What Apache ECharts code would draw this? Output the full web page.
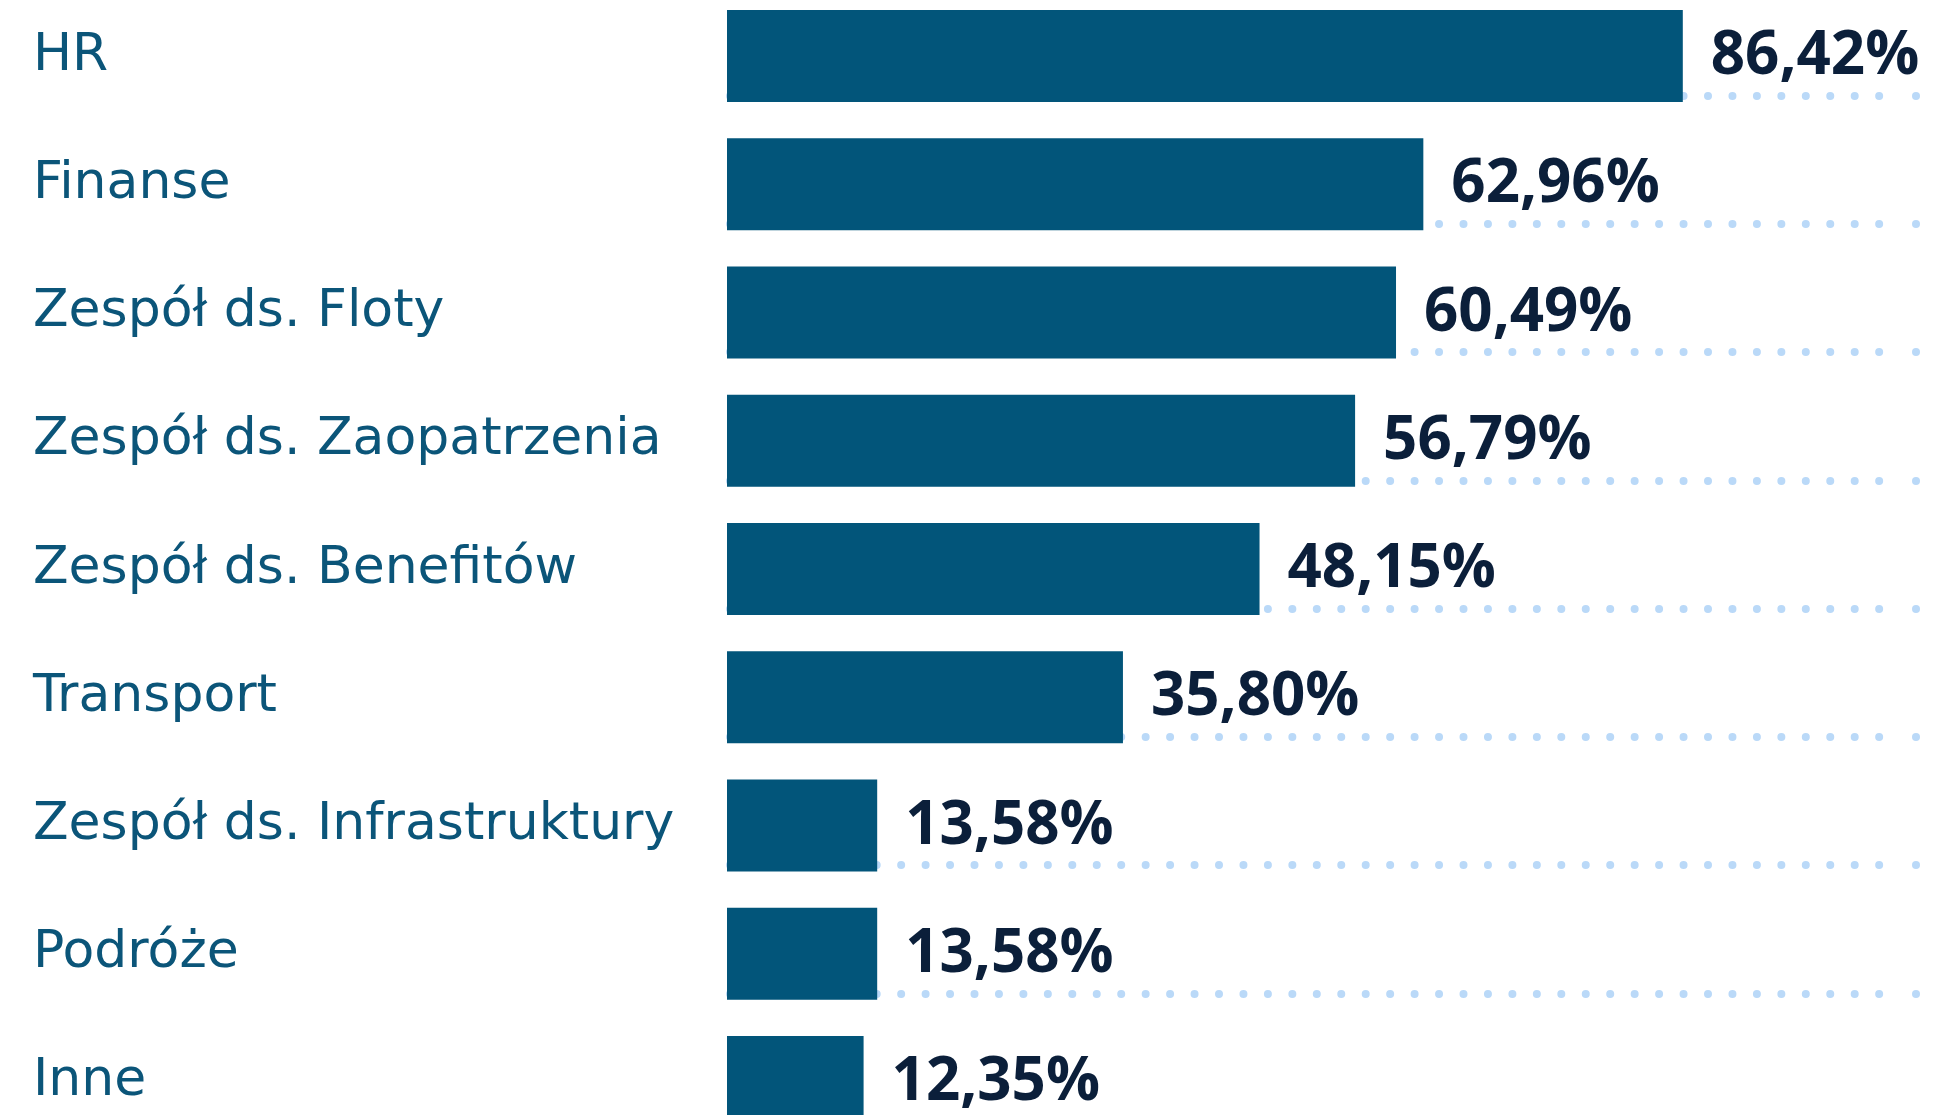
<!DOCTYPE html>
<html lang="pl">
<head>
<meta charset="utf-8">
<title>Działy</title>
<script src="https://cdn.jsdelivr.net/npm/echarts@6/dist/echarts.min.js"></script>
<style>
  html, body { margin: 0; padding: 0; background: #fff; }
  #chart { width: 1942px; height: 1115px; }
</style>
</head>
<body>
<div id="chart"></div>
<script>
const categories = [
  'HR',
  'Finanse',
  'Zespół ds. Floty',
  'Zespół ds. Zaopatrzenia',
  'Zespół ds. Benefitów',
  'Transport',
  'Zespół ds. Infrastruktury',
  'Podróże',
  'Inne'
]
const values = [86.42, 62.96, 60.49, 56.79, 48.15, 35.80, 13.58, 13.58, 12.35]

const barColor = '#02557a'
const labelColor = '#0b5579'
const valueColor = '#0b1f3a'
const dotColor = '#bad9f8'

const chart = echarts.init(document.getElementById('chart'))

// dotted guide lines: a hidden category axis shifted so its band edges sit under the bars
const dotAxis = (gridIndex) => ({
  type: 'category',
  gridIndex,
  inverse: true,
  data: categories,
  axisLine: { show: false },
  axisTick: { show: false },
  axisLabel: { show: false },
  splitLine: {
    show: true,
    interval: 0,
    lineStyle: { color: dotColor, width: 8, type: [0, 24.45], cap: 'round' }
  }
})

const option = {
  animation: false,
  grid: [
    { left: 727, top: -8, width: 1106, height: 1154, outerBoundsMode: 'none' },
    { left: 730, top: -32.5, width: 1151, height: 1154, outerBoundsMode: 'none' },
    { left: 1916, top: -32.5, width: 1, height: 1154, outerBoundsMode: 'none' }
  ],
  xAxis: [
    { type: 'value', gridIndex: 0, min: 0, max: 100, show: false },
    { type: 'value', gridIndex: 1, min: 0, max: 100, show: false },
    { type: 'value', gridIndex: 2, min: 0, max: 100, show: false }
  ],
  yAxis: [
    {
      type: 'category',
      gridIndex: 0,
      inverse: true,
      data: categories,
      axisLine: { show: false },
      axisTick: { show: false },
      splitLine: { show: false },
      axisLabel: {
        align: 'left',
        margin: 694,
        color: labelColor,
        fontFamily: '"DejaVu Sans", sans-serif',
        fontSize: 52,
        padding: [0, 0, 30, 0]
      }
    },
    dotAxis(1),
    dotAxis(2)
  ],
  series: [
    {
      type: 'bar',
      xAxisIndex: 0,
      yAxisIndex: 0,
      data: values,
      barWidth: 92,
      z: 3,
      itemStyle: { color: barColor },
      label: {
        show: true,
        position: 'right',
        distance: 28,
        offset: [0, 1],
        color: valueColor,
        fontFamily: '"Open Sans", sans-serif',
        fontWeight: 'bold',
        fontSize: 60,
        formatter: (p) => p.value.toFixed(2).replace('.', ',') + '%'
      }
    }
  ]
}

chart.setOption(option)
</script>
</body>
</html>
